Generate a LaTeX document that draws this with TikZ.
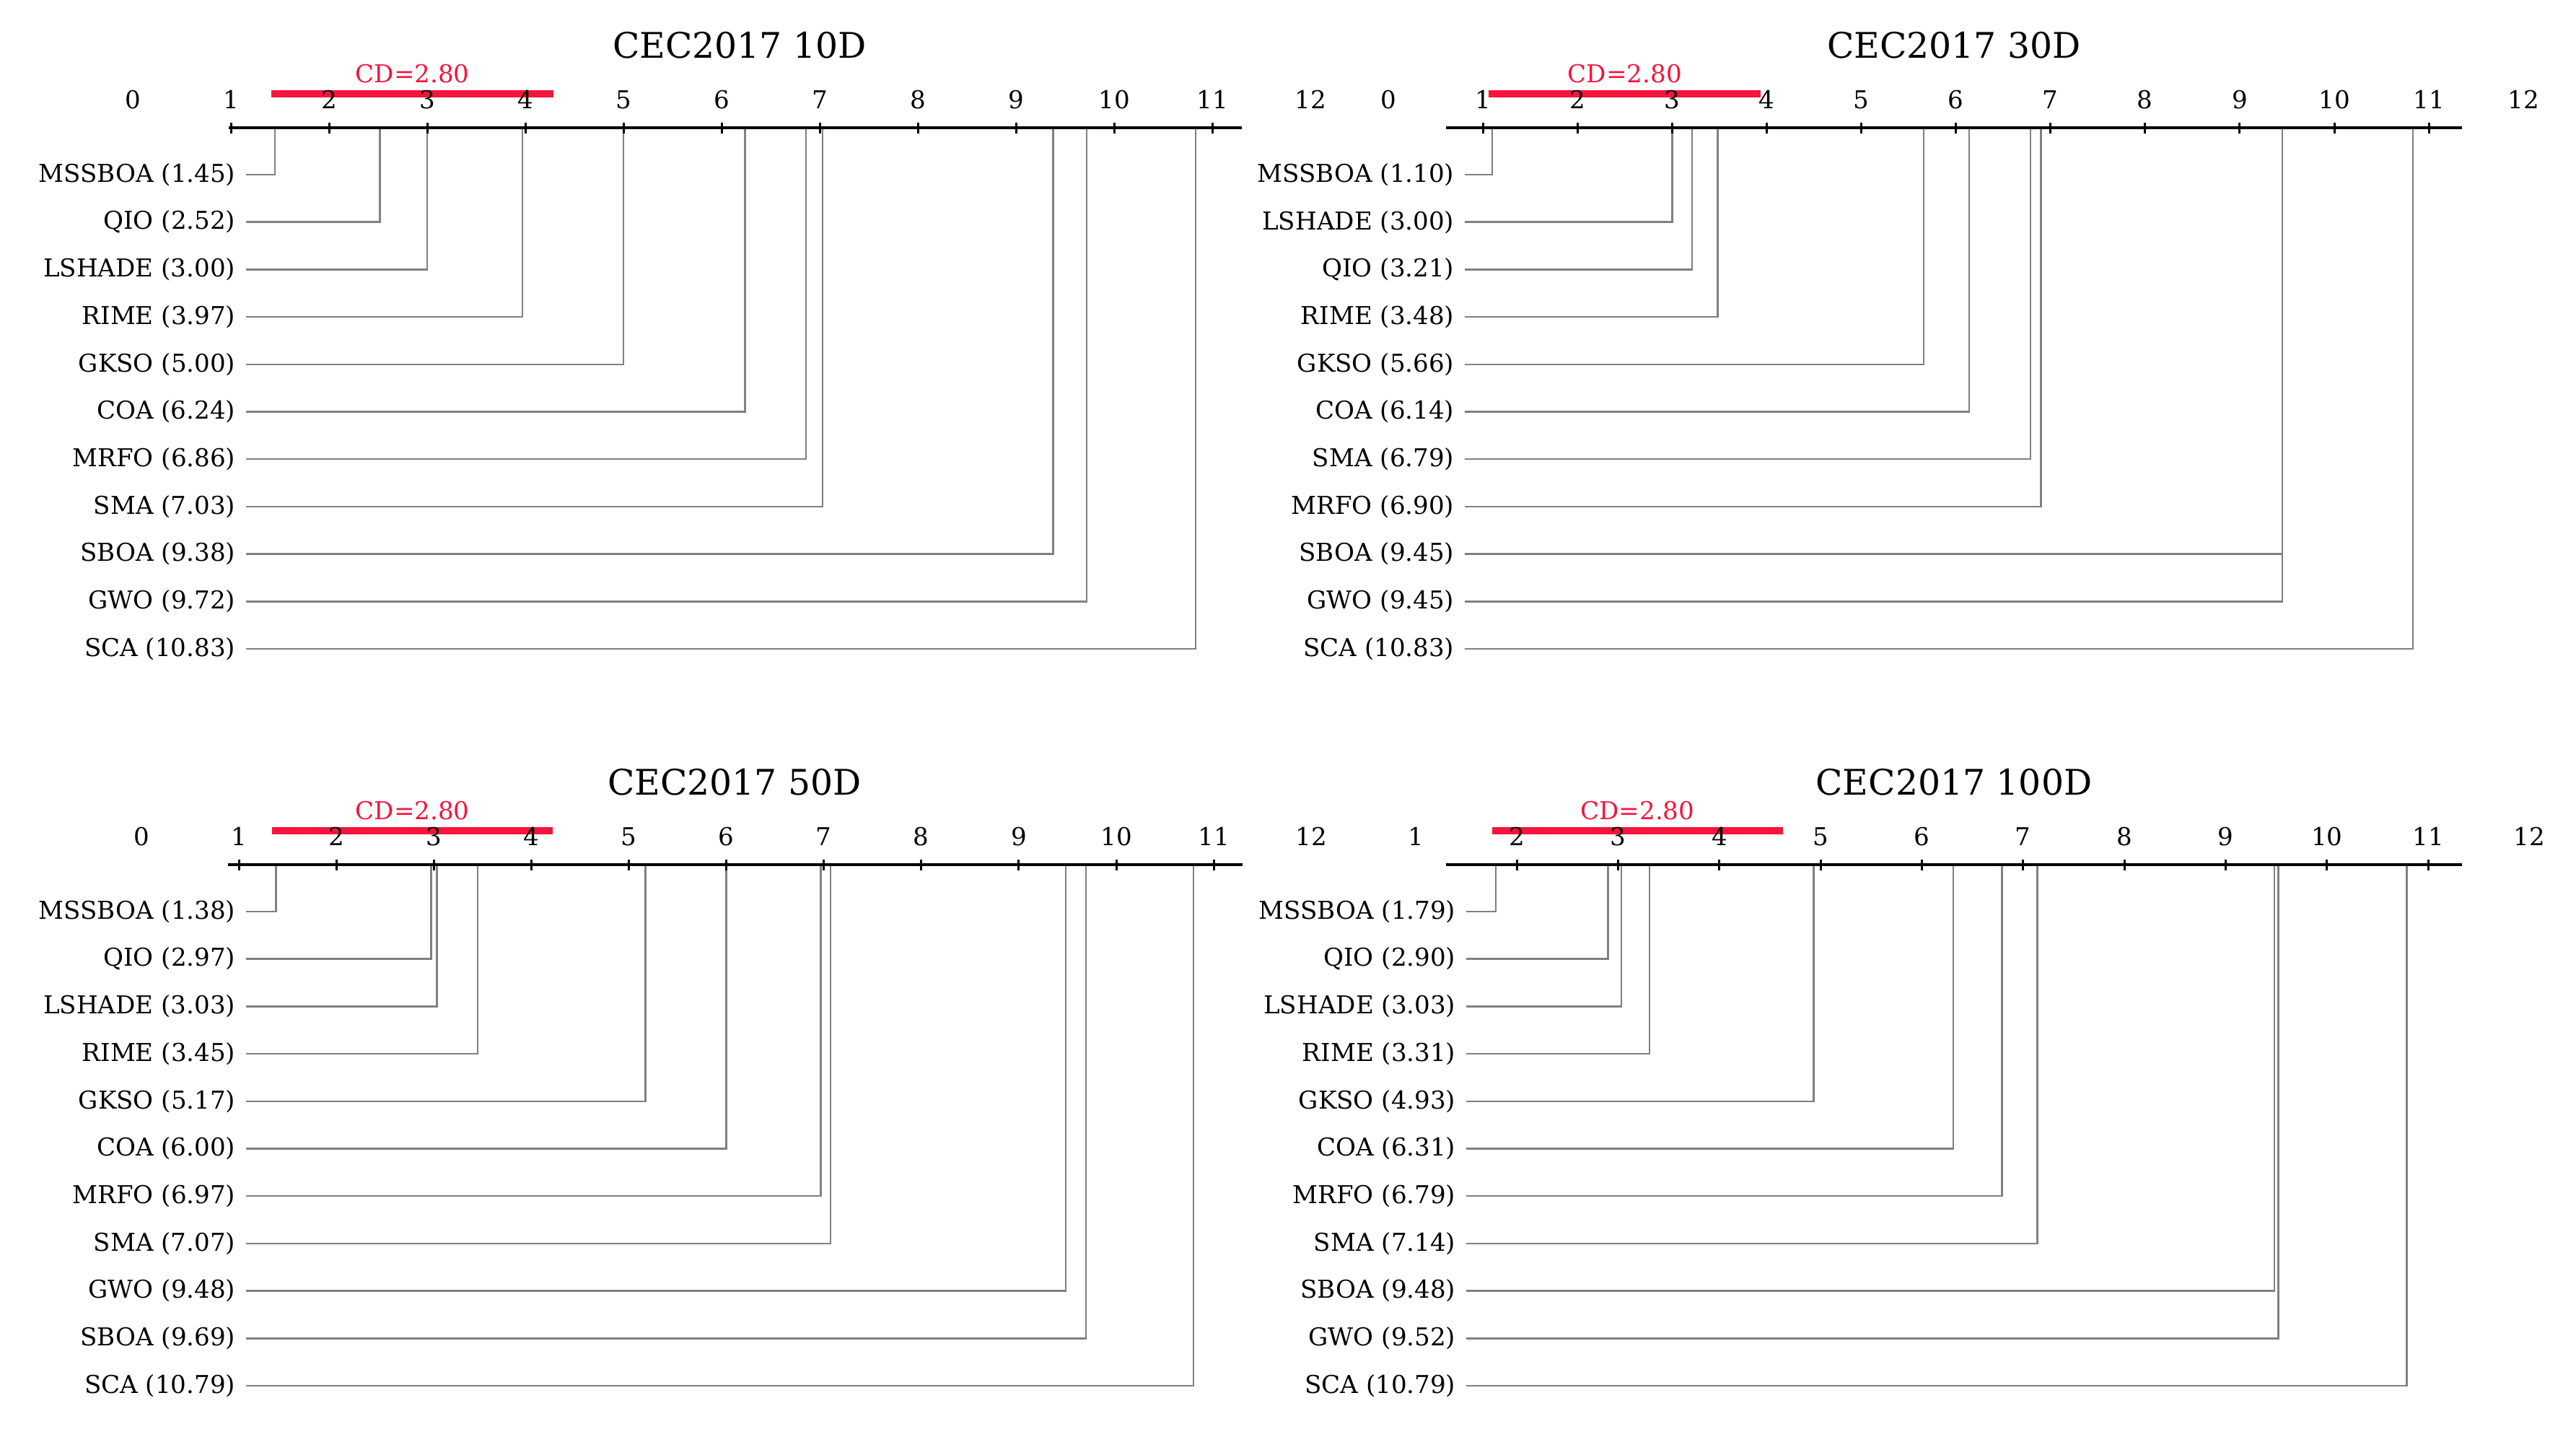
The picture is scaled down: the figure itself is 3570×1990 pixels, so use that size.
\documentclass[tikz,border=0pt]{standalone}
\usepackage{fontspec}
\setmainfont{DejaVu Serif}
\definecolor{cdred}{RGB}{245,20,60}
\begin{document}
\begin{tikzpicture}[x=0.01cm, y=-0.01cm, inner sep=0mm,
		axisstyle/.style={line width=0.04cm},
		tickstyle/.style={line width=0.03cm},
		rankline/.style={draw=gray, line width=0.025cm},
		cdbar/.style={draw=cdred, line width=0.1cm, line cap=rect},
		cdlabel/.style={text=cdred, font=\fontsize{9.7}{11}\selectfont},
		ticklabel/.style={font=\fontsize{9.7}{11}\selectfont},
		methodlabel/.style={font=\fontsize{9.7}{11}\selectfont, anchor=east, inner xsep=0.14cm},
		titlestyle/.style={font=\fontsize{13.9}{16}\selectfont}]

		\useasboundingbox (0,0) rectangle (3570,1990);

		\foreach \p/\xo/\u/\dy/\ax/\bx/\tf/\lf/\lx/\tx/\best/\ttl/\data in {
			1/184/136/0/317/1721/1/0/341/1025/1.45/{CEC2017 10D}/{MSSBOA/1.45, QIO/2.52, LSHADE/3.00, RIME/3.97, GKSO/5.00, COA/6.24, MRFO/6.86, SMA/7.03, SBOA/9.38, GWO/9.72, SCA/10.83},
			2/1924/131.1/0/2004/3412/1/0/2030/2708/1.10/{CEC2017 30D}/{MSSBOA/1.10, LSHADE/3.00, QIO/3.21, RIME/3.48, GKSO/5.66, COA/6.14, SMA/6.79, MRFO/6.90, SBOA/9.45, GWO/9.45, SCA/10.83},
			3/196/135.1/1021/316/1722/1/0/341/1018/1.38/{CEC2017 50D}/{MSSBOA/1.38, QIO/2.97, LSHADE/3.03, RIME/3.45, GKSO/5.17, COA/6.00, MRFO/6.97, SMA/7.07, GWO/9.48, SBOA/9.69, SCA/10.79},
			4/1821.7/140.3/1021/2004/3412/2/1/2032/2708/1.79/{CEC2017 100D}/{MSSBOA/1.79, QIO/2.90, LSHADE/3.03, RIME/3.31, GKSO/4.93, COA/6.31, MRFO/6.79, SMA/7.14, SBOA/9.48, GWO/9.52, SCA/10.79}}
		{
			\node [titlestyle] (title\p) at (\tx, {63+\dy}) {\ttl};

			% critical difference bar
			\coordinate (c\p) at ({\xo+\best*\u}, {130+\dy});
			\coordinate (d\p) at ({\xo+(\best+2.8)*\u}, {130+\dy});
			\draw[cdbar] (c\p) -- (d\p);
			\node [cdlabel] (cd\p) at ({\xo+(\best+1.4)*\u}, {102+\dy}) {CD=2.80};

			\foreach \t in {\lf,...,12}
			{
				\node [ticklabel] (t\p-\t) at ({\xo+\t*\u}, {138+\dy}) {\t};
			}

			\foreach \nm/\rk [count=\k from 0] in \data
			{
				\node [methodlabel] (l\p-\k) at (\lx, {242+\dy+\k*65.7}) {\nm{} (\rk)};
				\coordinate (r\p-\k) at ({\xo+\rk*\u}, {177+\dy});
				\draw[rankline] (l\p-\k.east) -| (r\p-\k);
			}

			\coordinate (a\p) at (\ax, {177+\dy});
			\coordinate (b\p) at (\bx, {177+\dy});
			\draw[axisstyle] (a\p) -- (b\p);
			\foreach \t in {\tf,...,11}
			{
				\draw[tickstyle] ({\xo+\t*\u}, {169.5+\dy}) -- ++(0,15);
			}
		}

		\end{tikzpicture}
\end{document}
